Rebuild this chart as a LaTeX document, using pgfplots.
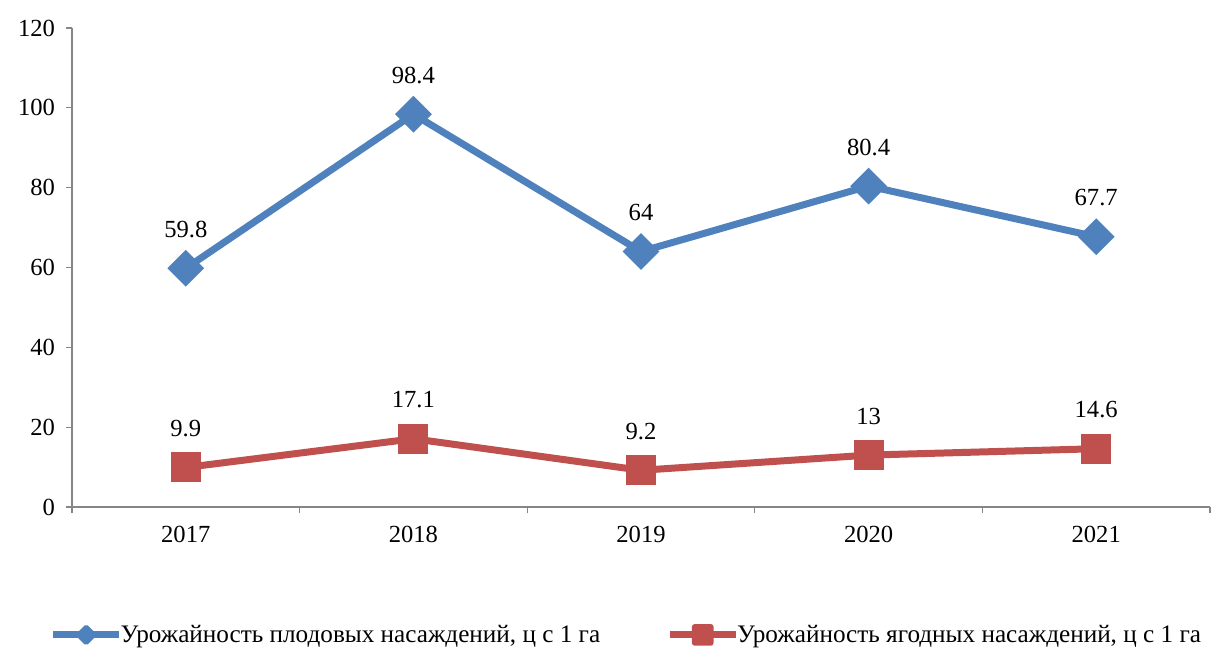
\documentclass[border=0pt]{standalone}
\usepackage{pgfplots}
\pgfplotsset{compat=1.18}
\usepackage{fontspec}
\setmainfont{Liberation Serif}
\definecolor{sblue}{HTML}{4F81BD}
\definecolor{sred}{HTML}{C0504D}
\definecolor{axgray}{HTML}{868686}
\begin{document}
\begin{tikzpicture}
\useasboundingbox (-36pt,-70pt) rectangle (573.5pt,253.5pt);
\begin{axis}[
  at={(0,0)}, anchor=south west,
  scale only axis, width=569pt, height=239.5pt,
  xmin=-0.5, xmax=4.5, ymin=0, ymax=120,
  axis x line*=bottom, axis y line*=left,
  axis line style={axgray, line width=0.6pt},
  every tick/.style={axgray, line width=0.6pt},
  tick align=outside, major tick length=3pt,
  xtick={-0.5,0.5,1.5,2.5,3.5,4.5},
  xticklabels={2017,2018,2019,2020,2021},
  x tick label as interval,
  ytick={0,20,...,120},
  /pgf/number format/assume math mode=true,
  tick label style={font=\fontsize{12.3}{14}\selectfont, black},
  xticklabel style={yshift=-3pt},
  yticklabel style={xshift=-2pt},
  nodes near coords,
  every node near coord/.append style={font=\fontsize{12.3}{14}\selectfont, black, anchor=center, yshift=19.5pt},
  /pgf/number format/.cd, fixed, precision=1,
  /pgfplots/.cd,
  legend columns=2,
  legend style={at={(0.488,-0.267)}, anchor=center, draw=none, fill=none,
    font=\fontsize{12.6}{14}\selectfont, /tikz/every even column/.append style={column sep=31pt},
    /tikz/every odd column/.append style={column sep=-3pt}},
  clip=false,
]
\addplot[sblue, line width=3.5pt, mark=square*, mark size=6pt,
  mark options={rotate=45, fill=sblue, draw=sblue, line width=1pt, rounded corners=1pt},
  legend image code/.code={
    \draw[sblue, line width=3.5pt] (0pt,0pt) -- (33pt,0pt);
    \path[fill=sblue, draw=sblue, line width=0.8pt, rounded corners=0.8pt, rotate around={45:(16.5pt,0pt)}]
      (13pt,-3.5pt) rectangle (20pt,3.5pt);
  }]
  coordinates {(0,59.8) (1,98.4) (2,64) (3,80.4) (4,67.7)};
\addlegendentry{Урожайность плодовых насаждений, ц с 1 га}
\addplot[sred, line width=3.5pt, mark=square*, mark size=7pt,
  mark options={fill=sred, draw=sred, line width=1pt, rounded corners=1.5pt},
  legend image code/.code={
    \draw[sred, line width=3.5pt] (0pt,0pt) -- (33pt,0pt);
    \path[fill=sred, draw=sred, line width=0.8pt, rounded corners=1pt]
      (11.5pt,-5pt) rectangle (21.5pt,5pt);
  }]
  coordinates {(0,9.9) (1,17.1) (2,9.2) (3,13) (4,14.6)};
\addlegendentry{Урожайность ягодных насаждений, ц с 1 га}
\end{axis}
\end{tikzpicture}
\end{document}
